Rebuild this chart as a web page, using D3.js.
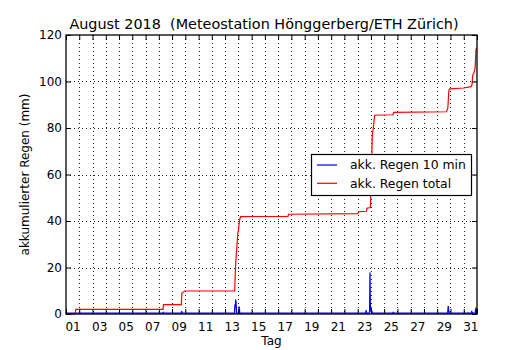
<!DOCTYPE html>
<html>
<head>
<meta charset="utf-8">
<script src="https://cdn.jsdelivr.net/npm/d3@7"></script>
<style>
  html, body { margin: 0; padding: 0; background: #fff; }
  svg { display: block; font-family: "DejaVu Sans", sans-serif; }
  text { white-space: pre; }
</style>
</head>
<body>
<svg id="chart" width="530" height="350"></svg>
<script>
// Time is given as day of month with fraction (1.0 = 1 Aug 00:00, 32.0 = 1 Sep 00:00)

// Cumulative rain total (mm)
const totalTime = [1.00, 1.70, 1.73, 8.32, 8.35, 9.70, 9.74, 9.88, 9.93, 13.72, 13.80, 13.97, 14.00,
  14.08, 14.16, 17.74, 17.79, 23.02, 23.06, 23.66, 23.70, 23.96, 24.04, 24.10, 24.18, 24.28,
  25.66, 25.72, 29.70, 29.80, 29.88, 29.95, 31.00, 31.55, 31.62, 31.68, 31.76, 31.86, 31.92, 31.98];
const totalMm = [0, 0, 2.0, 2.0, 4.0, 4.0, 9.0, 9.5, 9.9, 9.9, 22.0, 35.3, 35.6,
  40.0, 41.9, 42.0, 42.9, 43.2, 44.0, 44.2, 45.5, 45.8, 60.0, 77.0, 80.0, 85.5,
  85.7, 86.7, 87.0, 88.5, 96.3, 96.8, 97.2, 97.8, 98.5, 102.8, 103.5, 106.0, 113.5, 114.6];

// Non-zero 10-minute rain amounts (mm)
const rainTime = [1.72, 8.34, 9.72, 9.75, 13.72, 13.75, 13.78, 13.80, 13.83, 13.86, 14.05, 14.07, 14.09,
  17.77, 23.04, 23.63, 23.66, 23.90, 23.93, 23.95, 23.97, 24.00, 24.03, 24.06, 24.10, 24.15,
  25.68, 29.80, 29.83, 29.86, 29.90, 31.35, 31.60, 31.65, 31.88, 31.92, 31.96];
const rainMm = [0.3, 0.6, 0.9, 0.3, 1.5, 3.8, 2.5, 5.9, 4.0, 1.2, 1.5, 2.9, 0.8,
  0.3, 0.3, 1.3, 0.5, 0.6, 17.5, 4.0, 1.7, 1.2, 1.6, 0.8, 0.5, 0.3,
  0.6, 0.8, 3.1, 1.0, 0.5, 0.4, 1.0, 0.5, 1.2, 2.0, 1.5];

// Axis labels
const dayLabels = ["01","03","05","07","09","11","13","15","17","19","21","23","25","27","29","31"];
const yTicks = [0, 20, 40, 60, 80, 100, 120];

const seriesNames = ["akk. Regen 10 min", "akk. Regen total"];
const seriesColors = ["#0000ff", "#ff0000"];

const svg = d3.select("#chart");
const L = 66, R = 477, T = 35, B = 314;

const x = d3.scaleLinear().domain([1, 32]).range([L, R]);
const y = d3.scaleLinear().domain([0, 120]).range([B, T]);

// Dotted grid lines
const grid = svg.append("g").attr("stroke", "#222").attr("stroke-width", 1)
  .attr("stroke-dasharray", "1,3");
const midnights = d3.range(2, 32);
grid.selectAll("line.v").data(midnights).join("line")
  .attr("x1", d => Math.round(x(d)) + 0.5).attr("x2", d => Math.round(x(d)) + 0.5)
  .attr("y1", T).attr("y2", B);
grid.selectAll("line.h").data(yTicks.slice(1, -1)).join("line")
  .attr("x1", L).attr("x2", R)
  .attr("y1", d => Math.round(y(d)) + 0.5).attr("y2", d => Math.round(y(d)) + 0.5);

// Rain series: 10-minute values with zero baseline between showers
const gap = 0.045, step = 1 / 144;
const rainPts = [[1, 0]];
rainTime.forEach((t, i) => {
  const prev = i > 0 ? rainTime[i - 1] : -Infinity;
  const next = i < rainTime.length - 1 ? rainTime[i + 1] : Infinity;
  if (t - prev > gap) rainPts.push([t - step, 0]);
  rainPts.push([t, rainMm[i]]);
  if (next - t > gap) rainPts.push([t + step, 0]);
});
rainPts.push([32, 0]);

const line = d3.line().x(d => x(d[0])).y(d => y(d[1]));

svg.append("path").datum(rainPts)
  .attr("d", line).attr("fill", "none")
  .attr("stroke", seriesColors[0]).attr("stroke-width", 1.3)
  .attr("transform", "translate(0,-0.8)");

const totalPts = totalTime.map((t, i) => [t, totalMm[i]]);
svg.append("path").datum(totalPts)
  .attr("d", line).attr("fill", "none")
  .attr("stroke", seriesColors[1]).attr("stroke-width", 1.2);

// Axes with inward ticks on all four sides
function styleAxis(g) {
  g.select(".domain").remove();
  g.selectAll("line").attr("stroke", "#000").attr("stroke-width", 1);
  g.selectAll("text").attr("font-family", "DejaVu Sans").attr("font-size", 12).attr("fill", "#000");
}
const tickDays = d3.range(1, 33);
svg.append("g").attr("transform", `translate(0,${B})`)
  .call(d3.axisBottom(x).tickValues(tickDays).tickSizeInner(-5).tickSizeOuter(0).tickFormat(""))
  .call(styleAxis);
svg.append("g").attr("transform", `translate(0,${T})`)
  .call(d3.axisTop(x).tickValues(tickDays).tickSizeInner(-5).tickSizeOuter(0).tickFormat(""))
  .call(styleAxis);
svg.append("g").attr("transform", `translate(0,${B})`)
  .call(d3.axisBottom(x).tickValues(dayLabels.map(s => +s + 0.5)).tickSize(0).tickPadding(8.5)
    .tickFormat((d, i) => dayLabels[i]))
  .call(styleAxis);
svg.append("g").attr("transform", `translate(${L},0)`)
  .call(d3.axisLeft(y).tickValues(yTicks).tickSizeInner(-5).tickSizeOuter(0).tickPadding(4)
    .tickFormat(d3.format("d")))
  .call(styleAxis);
svg.append("g").attr("transform", `translate(${R},0)`)
  .call(d3.axisRight(y).tickValues(yTicks).tickSizeInner(-5).tickSizeOuter(0).tickFormat(""))
  .call(styleAxis);

// Plot frame
svg.append("rect").attr("x", L).attr("y", T).attr("width", R - L).attr("height", B - T)
  .attr("fill", "none").attr("stroke", "#000").attr("stroke-width", 1.3);

// Title and axis titles
svg.append("text").attr("x", 264).attr("y", 28.5).attr("text-anchor", "middle")
  .attr("font-size", 14.4).attr("xml:space", "preserve")
  .text("August 2018  (Meteostation Hönggerberg/ETH Zürich)");
svg.append("text").attr("x", (L + R) / 2).attr("y", 345).attr("text-anchor", "middle")
  .attr("font-size", 12).text("Tag");
svg.append("text").attr("transform", `translate(29,${(T + B) / 2}) rotate(-90)`)
  .attr("text-anchor", "middle").attr("font-size", 12).text("akkumulierter Regen (mm)");

// Legend
const lg = svg.append("g").attr("transform", "translate(311,154)");
lg.append("rect").attr("x", 0.5).attr("y", 0.5).attr("width", 160).attr("height", 41)
  .attr("fill", "#fff").attr("stroke", "#000").attr("stroke-width", 1.2);
seriesNames.forEach((name, i) => {
  const cy = 11 + i * 18.3;
  lg.append("line").attr("x1", 6).attr("x2", 26).attr("y1", cy).attr("y2", cy)
    .attr("stroke", seriesColors[i]).attr("stroke-width", 1.2);
  lg.append("text").attr("x", 39).attr("y", cy + 4.3).attr("font-size", 12.4).text(name);
});
</script>
</body>
</html>
